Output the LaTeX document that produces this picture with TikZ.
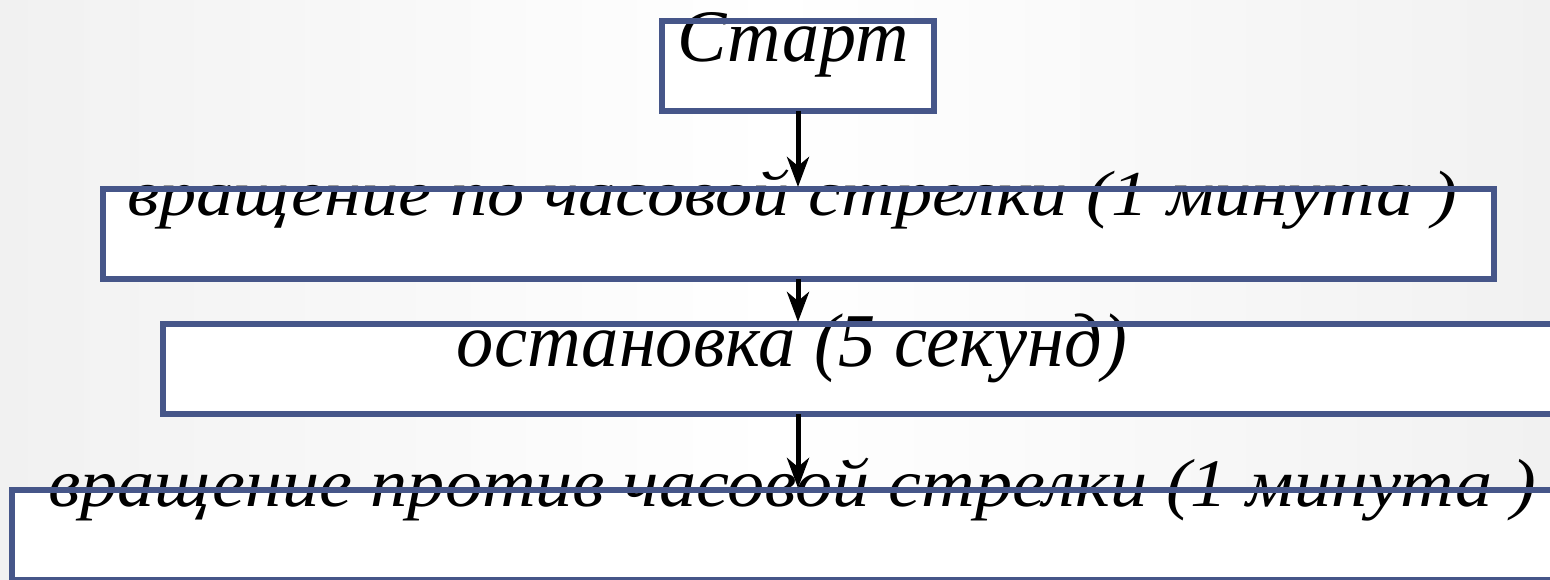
\documentclass[tikz,border=0pt]{standalone}
\usepackage{fontspec}
\setmainfont{Liberation Serif}
\usetikzlibrary{arrows.meta}
\definecolor{boxblue}{RGB}{70,86,137}
\definecolor{bgedge}{RGB}{241,241,241}
\tikzset{
  boxfill/.style={rectangle, inner sep=0pt, outer sep=0pt, fill=white, draw=none},
  border/.style={draw=boxblue, line width=6pt},
  txt/.style={inner sep=0pt, outer sep=0pt, anchor=base, font=\itshape},
  arr/.style={line width=5pt, -{Stealth[length=30pt,width=22pt,inset=9pt]}, shorten >=2pt},
}
\begin{document}
\begin{tikzpicture}[x=1pt,y=-1pt]
\useasboundingbox (0,0) rectangle (1550,580);
\clip (0,0) rectangle (1550,580);
\shade[left color=bgedge, right color=bgedge, middle color=white] (0,0) rectangle (1550,580);
% boxes (fill)
\node[boxfill, minimum width=272pt, minimum height=90pt] (b1) at (798,66) {};
\node[boxfill, minimum width=1391.5pt, minimum height=90pt] (b2) at (798.25,234) {};
\node[boxfill, minimum width=1437pt, minimum height=90pt] (b3) at (881.5,369) {};
\node[boxfill, minimum width=1588.5pt, minimum height=90pt] (b4) at (805.75,535) {};
% texts
\node[txt] (t1) at (793,62) {\fontsize{74}{78}\selectfont\scalebox{1.0}[1]{Старт}};
\node[txt] (t2) at (792,215) {\fontsize{64}{68}\selectfont\scalebox{1.162}[1]{вращение по часовой стрелки (1 минута )}};
\node[txt] (t3) at (792,366) {\fontsize{76}{80}\selectfont\scalebox{0.979}[1]{остановка (5 секунд)}};
\node[txt] (t4) at (792,506) {\fontsize{68}{72}\selectfont\scalebox{1.092}[1]{вращение против часовой стрелки (1 минута )}};
% borders
\foreach \b in {b1,b2,b3,b4}{
  \draw[border] (\b.north west) rectangle (\b.south east);
}
% arrows
\draw[arr] (b1.south) -- (b2.north -| b1.south);
\draw[arr] (b2.south -| b1.south) -- (b3.north -| b1.south);
\draw[arr] (b3.south -| b1.south) -- (b4.north -| b1.south);
\end{tikzpicture}
\end{document}
